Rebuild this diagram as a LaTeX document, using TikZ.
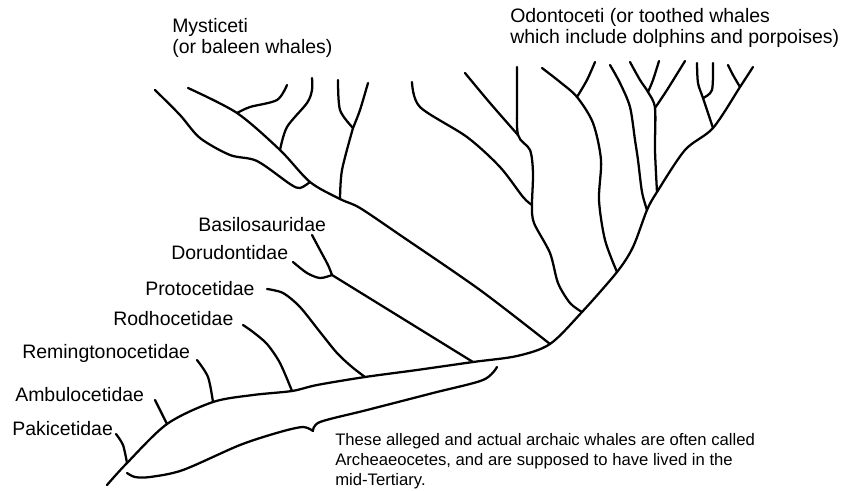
\documentclass[tikz,border=0pt]{standalone}
\usepackage{fontspec}
\setmainfont{Liberation Sans}
\usetikzlibrary{positioning}

\begin{document}
\begin{tikzpicture}[x=0.75pt, y=-0.75pt, line cap=round, line join=round]
    \tikzset{
        branch/.style={line width=1.7pt, black},
        taxon/.style={anchor=base west, inner sep=0pt,
            font=\fontsize{14.6pt}{15.6pt}\selectfont},
        group/.style={taxon, align=left},
        note/.style={anchor=base west, inner sep=0pt, align=left,
            font=\fontsize{12.5pt}{15pt}\selectfont}
    }
    \useasboundingbox (0,0) rectangle (846,490);

    % labels (multi-line ones sit on their last baseline)
    \node[group] (mysticeti) at (172,53) {Mysticeti\\(or baleen whales)};
    \node[group] (odontoceti) at (510,43) {Odontoceti (or toothed whales\\which include dolphins and porpoises)};
    \node[taxon] (basilo) at (198,231) {Basilosauridae};
    \node[taxon] (dorudo) at (171,259) {Dorudontidae};
    \node[taxon] (proto) at (145,295) {Protocetidae};
    \node[taxon] (rodho) at (113,325) {Rodhocetidae};
    \node[taxon] (reming) at (22,358) {Remingtonocetidae};
    \node[taxon] (ambulo) at (15,401) {Ambulocetidae};
    \node[taxon] (pakice) at (12,435) {Pakicetidae};
    \node[note] (archaeo) at (335,485) {These alleged and actual archaic whales are often called\\Archeaeocetes, and are supposed to have lived in the\\mid-Tertiary.};

    % junctions on the trunk
    \coordinate (jpaki) at (127,463);
    \coordinate (jambu) at (167,424);
    \coordinate (jremi) at (213,402);
    \coordinate (jrodh) at (292,391);
    \coordinate (jprot) at (365,377);
    \coordinate (jbasi) at (473,362);
    \coordinate (jmyst) at (550,344);
    \coordinate (jodl) at (582,312);
    \coordinate (jodd) at (617,272);
    \coordinate (jode) at (647,210);
    \coordinate (jodf) at (657,192);
    \coordinate (jodh) at (713,128);
    \coordinate (jodi) at (740,87);
    \coordinate (brace) at (313,431);

    % trunk
    \draw[branch] plot[smooth, tension=0.5] coordinates {(107,485) (jpaki) (jambu) (jremi) (253,395) (jrodh) (317,385) (jprot) (417,370) (jbasi) (517,356) (jmyst) (jodl) (jodd) (633,247) (jode) (jodf) (685,150) (jodh) (jodi) (753,67)};

    % archaic families
    \draw[branch] plot[smooth] coordinates {(116,434) (123,445) (jpaki)};
    \draw[branch] plot[smooth] coordinates {(155,400) (jambu)};
    \draw[branch] plot[smooth] coordinates {(197,360) (208,377) (jremi)};
    \draw[branch] plot[smooth] coordinates {(243,325) (253,332) (267,344) (280,363) (jrodh)};
    \draw[branch] plot[smooth] coordinates {(267,289) (283,293) (300,307) (320,332) (337,353) (352,367) (jprot)};
    \coordinate (jdoru) at (332,275);
    \draw[branch] (jdoru) -- (jbasi);
    \draw[branch] plot[smooth] coordinates {(312,235) (320,250) (328,265) (jdoru)};
    \draw[branch] plot[smooth] coordinates {(293,262) (307,273) (320,278) (jdoru)};

    % brace under the archaic whales
    \draw[branch] plot[smooth] coordinates {(127,473) (135,477) (150,477) (183,470) (240,445) (280,432) (303,427) (brace)};
    \draw[branch] plot[smooth] coordinates {(brace) (320,422) (367,410) (433,393) (483,380) (497,367)};

    % Mysticeti
    \coordinate (jm1) at (237,113);
    \coordinate (jm2) at (280,150);
    \coordinate (jm3) at (340,199);
    \coordinate (jm4) at (310,182);
    \coordinate (fm3) at (353,128);
    \draw[branch] plot[smooth] coordinates {(jmyst) (480,290) (400,235) (360,208) (jm3) (jm4) (jm2) (jm1) (188,88)};
    \draw[branch] plot[smooth] coordinates {(155,90) (180,115) (200,138) (230,155) (257,161) (290,184) (300,188) (jm4)};
    \draw[branch] plot[smooth] coordinates {(jm1) (250,107) (277,100) (287,85)};
    \draw[branch] plot[smooth] coordinates {(jm2) (287,127) (307,103) (312,90) (312,78)};
    \draw[branch] plot[smooth] coordinates {(jm3) (342,170) (fm3)};
    \draw[branch] plot[smooth] coordinates {(fm3) (340,110) (338,80)};
    \draw[branch] plot[smooth] coordinates {(fm3) (360,110) (368,83)};

    % Odontoceti
    \coordinate (joa) at (532,205);
    \coordinate (job) at (518,135);
    \draw[branch] plot[smooth] coordinates {(jodl) (570,303) (558,283) (550,253) (534,223) (joa) (533,173) (530,150) (job) (517,100) (517,67)};
    \draw[branch] plot[smooth] coordinates {(412,82) (420,107) (467,137) (500,167) (523,197) (joa)};
    \draw[branch] plot[smooth] coordinates {(465,73) (490,103) (job)};
    \coordinate (fod) at (577,97);
    \draw[branch] plot[smooth] coordinates {(jodd) (605,240) (599,200) (601,160) (593,123) (fod) (560,82) (542,68)};
    \draw[branch] plot[smooth] coordinates {(fod) (587,80) (595,62)};
    \draw[branch] plot[smooth] coordinates {(jode) (642,192) (638,160) (635,140) (630,107) (620,83) (610,65)};
    \coordinate (fof) at (648,92);
    \coordinate (jog) at (655,108);
    \draw[branch] plot[smooth] coordinates {(jodf) (655,150) (jog) (fof) (640,80) (630,62)};
    \draw[branch] plot[smooth] coordinates {(fof) (653,80) (659,61)};
    \draw[branch] plot[smooth] coordinates {(jog) (667,90) (685,61)};
    \coordinate (foh) at (703,98);
    \draw[branch] plot[smooth] coordinates {(jodh) (foh) (698,83) (697,63)};
    \draw[branch] plot[smooth] coordinates {(foh) (712,90) (713,63)};
    \draw[branch] plot[smooth] coordinates {(jodi) (733,75) (728,65)};
\end{tikzpicture}
\end{document}
